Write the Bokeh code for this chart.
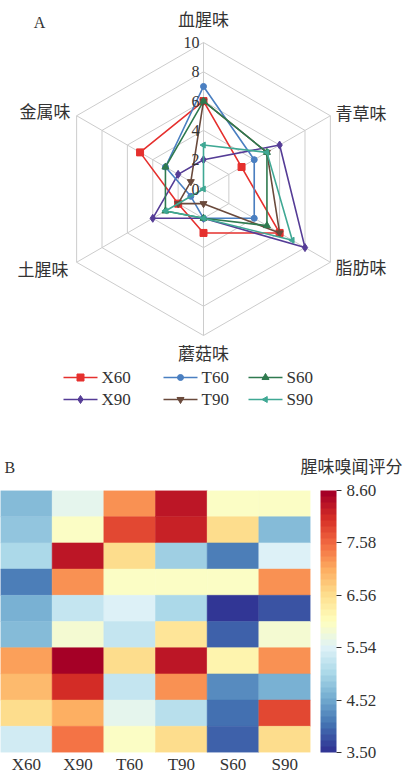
import math
from bokeh.plotting import figure
from bokeh.models import (Range1d, FactorRange, LinearColorMapper, ColorBar, FixedTicker,
                          PrintfTickFormatter, ColumnDataSource)
from bokeh.palettes import RdYlBu11, interp_palette
from bokeh.transform import transform
from bokeh.core.properties import value
from bokeh.embed import file_html
from bokeh.resources import INLINE

# ---------------- data ----------------
attributes = ["血腥味", "青草味", "脂肪味", "蘑菇味", "土腥味", "金属味"]
radar_ticks = [0, 2, 4, 6, 8, 10]
X60 = [6, 3, 6, 3, 2, 5]
X90 = [2, 6, 8, 2, 4, 2]
T60 = [7, 4, 4, 2, 1, 3]
T90 = [6, 5, 6, 1, 2, 1]
S60 = [6, 5, 5, 2, 3, 3]
S90 = [3, 5, 7, 2, 3, 0]

samples = ["X60", "X90", "T60", "T90", "S60", "S90"]
heat_X60 = [4.7, 4.8, 5.1, 4.1, 4.6, 4.7, 7.2, 6.9, 6.6, 5.4]
heat_X90 = [5.6, 6.0, 8.3, 7.3, 5.3, 5.9, 8.6, 8.1, 7.0, 7.5]
heat_T60 = [7.3, 7.8, 6.6, 6.0, 5.5, 5.3, 6.6, 5.3, 5.6, 6.0]
heat_T90 = [8.3, 8.2, 5.0, 6.0, 5.1, 6.5, 8.3, 7.3, 5.2, 6.6]
heat_S60 = [6.0, 6.6, 4.1, 6.0, 3.5, 3.9, 6.2, 4.2, 4.0, 3.9]
heat_S90 = [6.0, 4.7, 5.5, 7.3, 3.8, 5.9, 7.3, 4.6, 7.9, 6.6]
cbar_ticks = [3.50, 4.52, 5.54, 6.56, 7.58, 8.60]
cbar_title = "腥味嗅闻评分"

# ---------------- styles ----------------
CJK = "Noto Sans CJK SC"
SERIF = "Liberation Serif"
TXT = "#333333"
series = [
    ("X60", X60, "#e5302e", "square", 7),
    ("X90", X90, "#553c96", "diamond", 8),
    ("T60", T60, "#4a7fc1", "circle", 6),
    ("T90", T90, "#6a4a3c", "inverted_triangle", 7),
    ("S60", S60, "#2f7a4f", "triangle", 7),
    ("S90", S90, "#3fa894", "triangle", 6),
]

# ---------------- radar ----------------
SCALE = 14.65          # px per unit
W1, H1 = 404, 478
CX, CY = 203, 188.5    # centre in canvas px
p1 = figure(width=W1, height=H1,
            x_range=Range1d(-CX / SCALE, (W1 - CX) / SCALE),
            y_range=Range1d(-(H1 - CY) / SCALE, CY / SCALE),
            output_backend="svg", toolbar_location=None,
            x_axis_location=None, y_axis_location=None, min_border=0)
p1.grid.visible = False
p1.outline_line_color = None

def dx(px):
    return (px - CX) / SCALE

def dy(py):
    return (CY - py) / SCALE

angles = [math.radians(90 - 60 * i) for i in range(len(attributes))]

def pt(v, a):
    return v * math.cos(a), v * math.sin(a)

# rings
ring_xs, ring_ys = [], []
for r in radar_ticks[1:]:
    xs = [pt(r, a)[0] for a in angles]
    ys = [pt(r, a)[1] for a in angles]
    ring_xs.append(xs + xs[:1])
    ring_ys.append(ys + ys[:1])
p1.multi_line(ring_xs, ring_ys, line_color="#cccccc", line_width=1)
# spokes
rmax = radar_ticks[-1]
p1.segment([0] * 6, [0] * 6, [pt(rmax, a)[0] for a in angles], [pt(rmax, a)[1] for a in angles],
           line_color="#cccccc", line_width=1)

# series
for name, vals, col, mk, sz in series:
    xs = [pt(v, a)[0] for v, a in zip(vals, angles)]
    ys = [pt(v, a)[1] for v, a in zip(vals, angles)]
    p1.line(xs + xs[:1], ys + ys[:1], line_color=col, line_width=1.6)
    ang = math.pi / 2 if name == "S90" else 0
    p1.scatter(xs, ys, marker=mk, size=sz, fill_color=col, line_color=col, angle=ang)

# tick labels
p1.text([-4 / SCALE] * len(radar_ticks), radar_ticks, text=[str(t) for t in radar_ticks],
        text_align="right", text_baseline="middle", text_font=value(SERIF),
        text_font_size="16px", text_color=TXT)

# attribute labels (px offsets from centre)
lab_off = [(0, 170.5, "center"), (132, 76.5, "left"), (132, -77.5, "left"),
           (0, -163.5, "center"), (-135, -79.5, "right"), (-133, 78.5, "right")]
for name, (ox, oy, al) in zip(attributes, lab_off):
    p1.text([ox / SCALE], [oy / SCALE], text=[name], text_align=al, text_baseline="middle",
            text_font=value(CJK), text_font_size="17px", text_color=TXT)

# panel letters and heatmap colour-bar title
p1.text([dx(39)], [dy(22)], text=["A"], text_align="center", text_baseline="middle",
        text_font=value(SERIF), text_font_size="16px", text_color=TXT)
p1.text([dx(4)], [dy(467)], text=["B"], text_align="left", text_baseline="middle",
        text_font=value(SERIF), text_font_size="16px", text_color=TXT)
p1.text([dx(402)], [dy(465)], text=[cbar_title], text_align="right", text_baseline="middle",
        text_font=value(CJK), text_font_size="17px", text_color=TXT)

# legend
leg_cols = [63, 163, 248]
leg_rows = [377, 399]
for i, (name, vals, col, mk, sz) in enumerate(series):
    r = i % 2
    c = i // 2
    x0 = dx(leg_cols[c])
    x1 = dx(leg_cols[c] + 34)
    y = dy(leg_rows[r])
    p1.line([x0, x1], [y, y], line_color=col, line_width=1.6)
    ang = math.pi / 2 if name == "S90" else 0
    p1.scatter([(x0 + x1) / 2], [y], marker=mk, size=sz, fill_color=col, line_color=col, angle=ang)
    p1.text([x1 + 4 / SCALE], [y], text=[name], text_align="left", text_baseline="middle",
            text_font=value(SERIF), text_font_size="17px", text_color=TXT)

# ---------------- heatmap ----------------
heat_cols = [heat_X60, heat_X90, heat_T60, heat_T90, heat_S60, heat_S90]
nrows = len(heat_X60)
hx, hy, hv = [], [], []
for s, colvals in zip(samples, heat_cols):
    for i, v in enumerate(colvals):
        hx.append(s)
        hy.append(nrows - 0.5 - i)
        hv.append(v)
src = ColumnDataSource(dict(x=hx, y=hy, v=hv))

pal = interp_palette(list(RdYlBu11), 44)
mapper = LinearColorMapper(palette=pal, low=cbar_ticks[0], high=cbar_ticks[-1])

W2, H2 = 404, 298
TOP2, BOT2, RIGHT2 = 12, 24, 94
FRAME_H = H2 - TOP2 - BOT2
p2 = figure(width=W2, height=H2, x_range=FactorRange(*samples), y_range=Range1d(0, nrows),
            output_backend="svg", toolbar_location=None, y_axis_location=None,
            min_border_left=0, min_border_top=TOP2, min_border_right=RIGHT2,
            min_border_bottom=BOT2)
p2.grid.visible = False
p2.outline_line_color = None
p2.rect("x", "y", width=1, height=1, source=src,
        fill_color=transform("v", mapper), line_color=transform("v", mapper), line_width=0.5)
p2.xaxis.axis_line_color = None
p2.xaxis.major_tick_line_color = None
p2.xaxis.major_tick_out = 0
p2.xaxis.major_tick_in = 0
p2.xaxis.major_label_standoff = 2
p2.xaxis.major_label_text_font = SERIF
p2.xaxis.major_label_text_font_size = "17px"
p2.xaxis.major_label_text_color = TXT

cb = ColorBar(color_mapper=mapper, ticker=FixedTicker(ticks=cbar_ticks),
              formatter=PrintfTickFormatter(format="%.2f"), width=16, height=FRAME_H,
              location=(W2 - RIGHT2 + 10, 0), margin=0, padding=0,
              major_tick_out=5, major_tick_in=0, major_tick_line_color=TXT,
              label_standoff=5, major_label_text_font=SERIF, major_label_text_font_size="17px",
              major_label_text_color=TXT, bar_line_color=None, border_line_color=None,
              background_fill_color=None, background_fill_alpha=0)
p2.add_layout(cb, "center")

open("out.html", "w").write(file_html([p1, p2], INLINE))
